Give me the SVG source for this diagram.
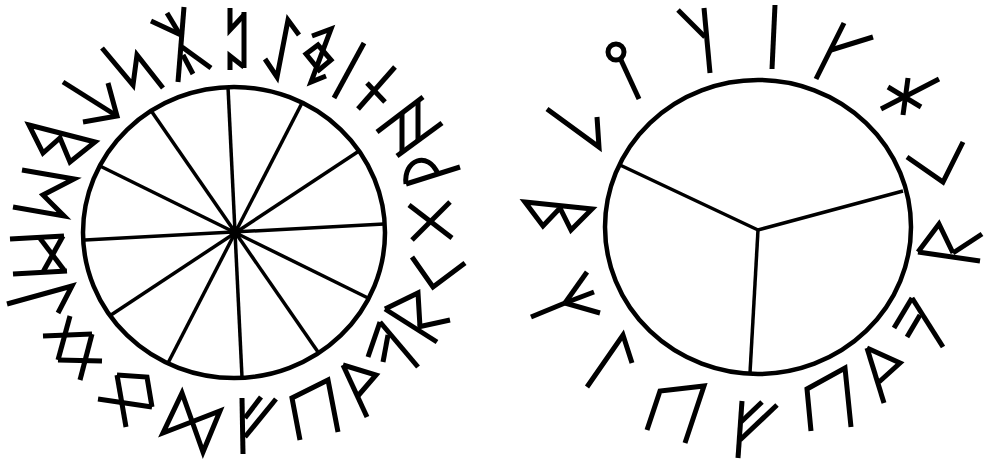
<svg xmlns="http://www.w3.org/2000/svg" width="984" height="463" viewBox="0 0 984 463">
<style>
.w{fill:none;stroke:#000;stroke-width:4.5}
.s{fill:none;stroke:#000;stroke-width:3.5}
.r{fill:none;stroke:#000;stroke-width:5;stroke-linejoin:miter;stroke-linecap:butt}
</style>
<rect width="984" height="463" fill="#fff"/>
<g id="wheel-left">
<ellipse class="w" cx="234" cy="232.5" rx="151" ry="145.5"/>
<g id="spokes-left">
<line class="s" x1="228" y1="87" x2="242" y2="377"/>
<line class="s" x1="152" y1="112" x2="318" y2="352"/>
<line class="s" x1="100" y1="166" x2="368" y2="298"/>
<line class="s" x1="85" y1="240" x2="384" y2="224"/>
<line class="s" x1="111" y1="315" x2="359" y2="151"/>
<line class="s" x1="168" y1="363" x2="302" y2="103"/>
</g>
<circle cx="235" cy="232" r="6" fill="#000"/>
</g>
<g id="runes-left">
<polyline class="r" points="242,398 243,454"/>
<polyline class="r" points="245,418 261,397"/>
<polyline class="r" points="245,437 276,399"/>
<polyline class="r" points="300,440 292,398 328,380 338,432"/>
<polyline class="r" points="343,365 367,417"/>
<polyline class="r" points="343,365 376,375 357,397"/>
<polyline class="r" points="380,322 418,367"/>
<polyline class="r" points="380,322 368,357"/>
<polyline class="r" points="388,335 383,362"/>
<polyline class="r" points="385,309 418,293 420,327"/>
<polyline class="r" points="385,309 437,342"/>
<polyline class="r" points="418,327 450,320"/>
<polyline class="r" points="412,257 433,287 465,263"/>
<polyline class="r" points="409,205 452,238"/>
<polyline class="r" points="450,202 412,240"/>
<polyline class="r" points="406,184 460,167"/>
<path class="r" d="M406,184 C403,160 428,150 438,174"/>
<polyline class="r" points="377,132 423,97"/>
<polyline class="r" points="397,156 442,123"/>
<polyline class="r" points="402,114 402,152"/>
<polyline class="r" points="418,102 418,140"/>
<polyline class="r" points="395,67 358,109"/>
<polyline class="r" points="367,83 385,102"/>
<polyline class="r" points="364,43 334,98"/>
<polyline class="r" points="312,36 331,29 311,82 326,76"/>
<polygon class="r" points="306,54 318,45 331,60 319,70"/>
<polyline class="r" points="265,59 277,77 288,20 299,35"/>
<polyline class="r" points="244,12 244,68"/>
<polyline class="r" points="230,8 230,30 244,15"/>
<polyline class="r" points="244,67 230,56 230,70"/>
<polyline class="r" points="184,7 178,82"/>
<polyline class="r" points="151,21 181,35"/>
<polyline class="r" points="167,13 179,33"/>
<polyline class="r" points="182,47 211,68"/>
<polyline class="r" points="183,55 193,74"/>
<polyline class="r" points="102,48 133,85 137,55 163,88"/>
<polyline class="r" points="63,82 117,116"/>
<polyline class="r" points="108,83 117,116 83,122"/>
<polygon class="r" points="29,125 95,142 70,162 60,138 43,153"/>
<polyline class="r" points="22,170 74,179 43,195 64,216 13,207"/>
<polyline class="r" points="10,239 64,236"/>
<polyline class="r" points="13,274 67,271"/>
<polyline class="r" points="39,237 64,270"/>
<polyline class="r" points="63,236 43,272"/>
<polyline class="r" points="7,304 72,286 58,313"/>
<polyline class="r" points="43,336 92,334"/>
<polyline class="r" points="92,334 80,380"/>
<polyline class="r" points="70,316 58,360"/>
<polyline class="r" points="58,360 102,361"/>
<polyline class="r" points="98,399 152,407"/>
<polyline class="r" points="117,375 126,427"/>
<polyline class="r" points="117,375 147,377 152,407"/>
<polygon class="r" points="182,393 163,433 220,411 203,452"/>
</g>
<g id="wheel-right">
<ellipse class="w" cx="758" cy="227" rx="153" ry="147"/>
<g id="dividers-right">
<polyline class="s" points="620,165 758,230 903,191"/>
<polyline class="s" points="758,230 750,373"/>
</g>
</g>
<g id="runes-right">
<polyline class="r" points="742,401 738,458"/>
<polyline class="r" points="741,422 762,402"/>
<polyline class="r" points="740,440 777,405"/>
<polyline class="r" points="811,431 807,389 845,368 851,427"/>
<polyline class="r" points="867,348 884,403"/>
<polyline class="r" points="867,348 900,363 879,382"/>
<polyline class="r" points="912,298 943,347"/>
<polyline class="r" points="912,298 894,328"/>
<polyline class="r" points="920,315 907,337"/>
<polyline class="r" points="918,252 939,224 953,253"/>
<polyline class="r" points="918,252 980,261"/>
<polyline class="r" points="953,253 982,234"/>
<polyline class="r" points="907,157 943,182 963,142"/>
<polyline class="r" points="908,78 903,115"/>
<polyline class="r" points="939,79 881,109"/>
<polyline class="r" points="888,87 921,107"/>
<polyline class="r" points="844,23 816,79"/>
<polyline class="r" points="831,50 873,37"/>
<polyline class="r" points="775,5 772,69"/>
<polyline class="r" points="704,8 710,73"/>
<polyline class="r" points="678,10 705,37"/>
<circle class="r" cx="616" cy="52" r="8"/>
<polyline class="r" points="621,60 639,99"/>
<polyline class="r" points="547,109 599,147 597,117"/>
<polygon class="r" points="525,202 592,209 571,230 560,208 543,226"/>
<polyline class="r" points="531,317 565,303"/>
<polyline class="r" points="565,303 587,272"/>
<polyline class="r" points="565,303 594,292"/>
<polyline class="r" points="565,303 600,313"/>
<polyline class="r" points="587,387 623,335 632,363"/>
<polyline class="r" points="647,430 660,391 704,386 685,443"/>
</g>
</svg>
